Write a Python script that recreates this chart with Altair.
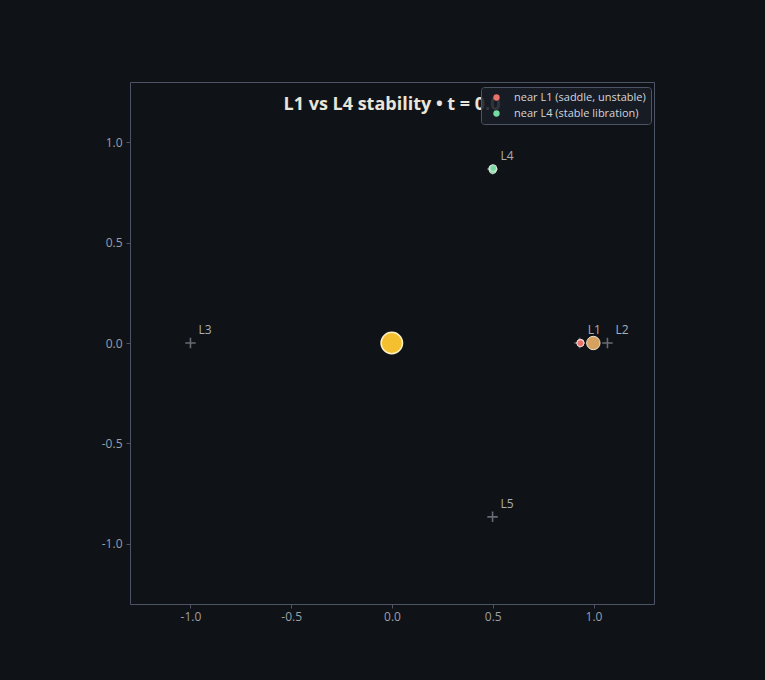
import altair as alt
import pandas as pd

# --- data -------------------------------------------------------------
lag_names = ["L1", "L2", "L3", "L4", "L5"]
lag_x = [0.931, 1.069, -1.000, 0.499, 0.499]
lag_y = [0.0, 0.0, 0.0, 0.866, -0.866]

body_names = ["Sun", "Planet"]
body_x = [-0.001, 0.999]
body_y = [0.0, 0.0]

particle_group = ["near L1 (saddle, unstable)"] * 3 + ["near L4 (stable libration)"] * 4
particle_x = [0.934, 0.936, 0.935, 0.497, 0.503, 0.500, 0.502]
particle_y = [0.000, 0.001, -0.001, 0.868, 0.866, 0.861, 0.871]

title_text = "L1 vs L4 stability \u2022 t = 0.0"
ticks = [-1.0, -0.5, 0.0, 0.5, 1.0]

# --- styling ----------------------------------------------------------
BG = "#0f1318"
FRAME = "#4d5465"
TICKLAB = "#9b9fa6"
FONT = "Open Sans"

lag_df = pd.DataFrame({"name": lag_names, "x": lag_x, "y": lag_y})
sun_df = pd.DataFrame({"name": body_names[:1], "x": body_x[:1], "y": body_y[:1]})
planet_df = pd.DataFrame({"name": body_names[1:], "x": body_x[1:], "y": body_y[1:]})
part_df = pd.DataFrame({"group": particle_group, "x": particle_x, "y": particle_y})

xscale = alt.Scale(domain=[-1.3, 1.3], nice=False, zero=False)
yscale = alt.Scale(domain=[-1.3, 1.3], nice=False, zero=False)
lab = "(datum.value < 0 ? '-' : '') + format(abs(datum.value), '.1f')"
xaxis = alt.Axis(values=ticks, labelExpr=lab, title=None, grid=False, domain=False,
                 tickColor=FRAME, tickSize=4, labelColor=TICKLAB, labelFontSize=12,
                 labelFont=FONT, labelPadding=3)
yaxis = alt.Axis(values=ticks, labelExpr=lab, title=None, grid=False, domain=False,
                 tickColor=FRAME, tickSize=4, labelColor=TICKLAB, labelFontSize=12,
                 labelFont=FONT, labelPadding=4)

X = alt.X("x:Q", scale=xscale, axis=xaxis)
Y = alt.Y("y:Q", scale=yscale, axis=yaxis)

cross = alt.Chart(lag_df).mark_point(
    shape="M-1,0L1,0M0,-1L0,1", size=110, stroke="#8b919b", strokeWidth=1.6, filled=False
).encode(x=X, y=Y)

lag_text = alt.Chart(lag_df).mark_text(
    align="left", baseline="middle", dx=8, dy=-13, fontSize=12, font=FONT, color="#a9afb7"
).encode(x=X, y=Y, text="name:N")

sun = alt.Chart(sun_df).mark_point(
    filled=True, size=460, fill="#f4c02f", stroke="#fff1c4", strokeWidth=1.5, opacity=1
).encode(x=X, y=Y)

planet = alt.Chart(planet_df).mark_point(
    filled=True, size=180, fill="#d6a05e", stroke="#f2e2c8", strokeWidth=1, opacity=1
).encode(x=X, y=Y)

parts = alt.Chart(part_df).mark_point(
    filled=True, size=48, stroke="#f4ece6", strokeWidth=0.8, opacity=0.95
).encode(
    x=X, y=Y,
    color=alt.Color(
        "group:N",
        scale=alt.Scale(domain=["near L1 (saddle, unstable)", "near L4 (stable libration)"],
                        range=["#e8736a", "#74dba2"]),
        legend=alt.Legend(
            title=None, orient="none", legendX=351, legendY=5, zindex=1,
            fillColor="rgba(24,29,37,0.88)", strokeColor="#4d5465", cornerRadius=3,
            padding=5, labelColor="#d4d6da", labelFontSize=11, labelFont=FONT,
            symbolSize=40, symbolStrokeWidth=0, symbolType="circle", symbolOffset=5,
            labelOffset=12, rowPadding=4, symbolOpacity=1,
        ),
    ),
)

title = alt.Chart(pd.DataFrame({"t": [title_text]})).mark_text(
    align="center", baseline="middle", fontSize=18, fontWeight="bold", font=FONT,
    color="#e9e5da"
).encode(x=alt.value(262), y=alt.value(23), text="t:N")

chart = alt.layer(cross, lag_text, sun, planet, parts, title).properties(
    width=524, height=522,
    background=BG,
    padding={"left": 130, "top": 82, "right": 111, "bottom": 76},
    autosize=alt.AutoSizeParams(type="none"),
).configure_view(stroke=FRAME, strokeWidth=1, fill=BG)

chart.save("out.html", embed_options={"renderer": "svg", "actions": False})
